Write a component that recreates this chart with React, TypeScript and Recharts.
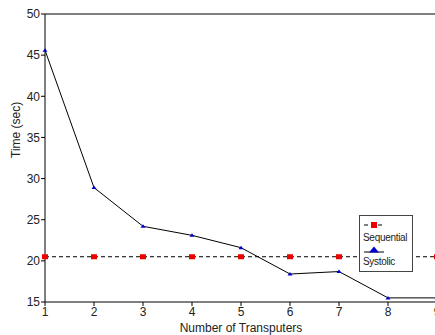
import { LineChart, Line, XAxis, YAxis, ReferenceLine, Legend } from "recharts";

const transputers = [1, 2, 3, 4, 5, 6, 7, 8, 9];
const sequential = [20.5, 20.5, 20.5, 20.5, 20.5, 20.5, 20.5, 20.5, 20.5];
const systolic = [45.6, 28.9, 24.2, 23.1, 21.6, 18.4, 18.7, 15.5, 15.5];
const xTicks = [1, 2, 3, 4, 5, 6, 7, 8, 9];
const yTicks = [15, 20, 25, 30, 35, 40, 45, 50];

const data = transputers.map((n, i) => ({
  n,
  sequential: sequential[i],
  systolic: systolic[i],
}));

const font = "'Liberation Sans', Arial, sans-serif";
const tick = { fontSize: 12, fill: "#222", fontFamily: font };

function SquareDot(props: any) {
  const { cx, cy } = props;
  if (cx == null || cy == null) return null;
  return <rect x={cx - 3} y={cy - 2.5} width={6} height={5} fill="#e00" />;
}

function TriangleDot(props: any) {
  const { cx, cy } = props;
  if (cx == null || cy == null) return null;
  return <polygon points={`${cx - 2.5},${cy + 1.5} ${cx + 2.5},${cy + 1.5} ${cx},${cy - 2}`} fill="#00c" />;
}

function LegendBox() {
  return (
    <div
      style={{
        width: 54,
        height: 57,
        border: "1px solid #444",
        background: "#fff",
        fontFamily: font,
        fontSize: 10,
        letterSpacing: -0.3,
        color: "#222",
        padding: "3px 0 0 3px",
        boxSizing: "border-box",
        lineHeight: "12px",
      }}
    >
      <svg width={24} height={12} style={{ display: "block" }}>
        <line x1={1} y1={6} x2={21} y2={6} stroke="#000" strokeDasharray="4 3" />
        <rect x={8} y={3} width={6} height={6} fill="#e00" />
      </svg>
      <div style={{ marginTop: 1 }}>Sequential</div>
      <svg width={24} height={12} style={{ display: "block" }}>
        <line x1={1} y1={8} x2={21} y2={8} stroke="#000" />
        <polygon points="6,8.5 16,8.5 11,2.5" fill="#00c" />
      </svg>
      <div>Systolic</div>
    </div>
  );
}

export default function App() {
  return (
    <div style={{ position: "absolute", left: 0, top: 0, width: 435, height: 335, overflow: "hidden", background: "#fff" }}>
      <LineChart width={445} height={335} data={data} margin={{ top: 14, right: 8, left: 0, bottom: 0 }}>
        <XAxis
          dataKey="n"
          type="number"
          domain={[1, 9]}
          ticks={xTicks}
          tick={tick}
          tickSize={4}
          tickMargin={1}
          stroke="#000"
          height={33}
          label={{ value: "Number of Transputers", position: "insideBottom", offset: 3, fontSize: 12, fill: "#222", fontFamily: font }}
        />
        <YAxis
          type="number"
          domain={[15, 50]}
          ticks={yTicks}
          tick={tick}
          tickSize={4}
          tickMargin={1}
          stroke="#000"
          width={45}
          label={{ value: "Time (sec)", angle: -90, position: "insideLeft", offset: 16, fontSize: 12, fill: "#222", fontFamily: font }}
        />
        <ReferenceLine y={50} stroke="#000" />
        <ReferenceLine x={9} stroke="#000" />
        <Line
          dataKey="sequential"
          stroke="#000"
          strokeWidth={1}
          strokeDasharray="4 3"
          dot={<SquareDot />}
          activeDot={false}
          isAnimationActive={false}
        />
        <Line
          dataKey="systolic"
          stroke="#000"
          strokeWidth={1}
          dot={<TriangleDot />}
          activeDot={false}
          isAnimationActive={false}
        />
        <Legend
          layout="vertical"
          align="center"
          verticalAlign="middle"
          content={() => <LegendBox />}
          wrapperStyle={{ position: "absolute", left: 359, top: 215, width: 54, height: 57 }}
        />
      </LineChart>
    </div>
  );
}
